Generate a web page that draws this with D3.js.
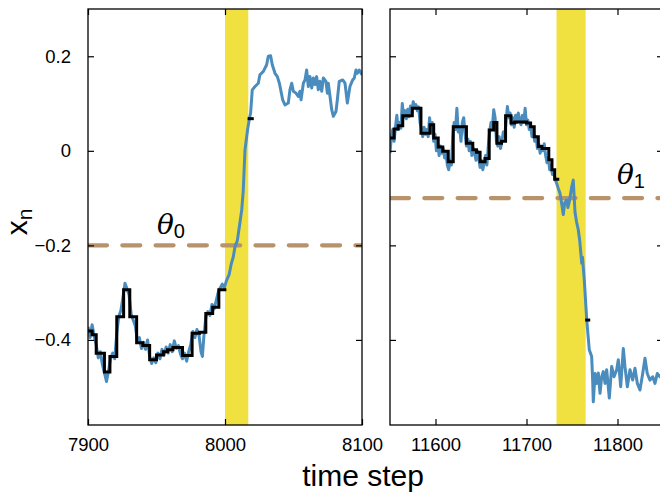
<!DOCTYPE html>
<html><head><meta charset="utf-8">
<script src="https://cdn.jsdelivr.net/npm/d3@7"></script>
<style>
body{margin:0;background:#fff}
svg{display:block}
text{font-family:"Liberation Sans",Arial,Helvetica,sans-serif;fill:#000}
</style></head>
<body>
<svg id="chart" width="660" height="494"></svg>
<script>
// ---------- DATA ----------
const yTicks = [-0.4, -0.2, 0, 0.2];
const xTicksLeft = [7900, 8000, 8100];
const xTicksRight = [11600, 11700, 11800];
const domainLeft = [7900, 8100];
const domainRight = [11550, 11850];
const yDomain = [-0.58, 0.3];
const thresholdLeft = -0.2;   // theta_0
const thresholdRight = -0.1;  // theta_1
const bandLeft = [8000, 8017];
const bandRight = [11733, 11765];

// blue trace, left window [time step, x_n]
const blueLeft = [
[7900,-0.372],[7901.5,-0.395],[7903,-0.368],[7904.5,-0.392],[7906,-0.410],[7907.5,-0.438],[7909,-0.425],
[7910.5,-0.452],[7912,-0.470],[7913.5,-0.488],[7915,-0.465],[7916.5,-0.440],[7918,-0.428],[7919.5,-0.440],
[7921,-0.385],[7922.5,-0.350],[7924,-0.338],[7925.5,-0.310],[7927,-0.280],[7928.5,-0.292],[7930,-0.305],
[7931.5,-0.345],[7933,-0.358],[7934.5,-0.370],[7936,-0.400],[7937.5,-0.395],[7939,-0.418],[7940.5,-0.405],
[7942,-0.420],[7943.5,-0.400],[7945,-0.435],[7946.5,-0.450],[7948,-0.438],[7949.5,-0.448],[7951,-0.428],
[7952.5,-0.440],[7954,-0.420],[7955.5,-0.432],[7957,-0.415],[7958.5,-0.428],[7960,-0.410],[7961.5,-0.425],
[7963,-0.402],[7964.5,-0.418],[7966,-0.412],[7967.5,-0.430],[7969,-0.440],[7970.5,-0.428],[7972,-0.445],
[7973.5,-0.425],[7975,-0.410],[7976.5,-0.382],[7978,-0.395],[7979.5,-0.378],[7981,-0.390],[7982.5,-0.425],
[7983.5,-0.435],[7984.5,-0.395],[7986,-0.352],[7987.5,-0.340],[7989,-0.348],[7990.5,-0.325],[7992,-0.335],
[7993.5,-0.318],[7995,-0.300],[7996.5,-0.290],[7998,-0.282],[7999.5,-0.290],[8001,-0.275],[8003,-0.262],
[8004.5,-0.240],[8006,-0.225],[8007.3,-0.203],[8009,-0.190],[8010.5,-0.160],[8012.2,-0.125],[8013.3,-0.085],
[8014.6,0.002],[8016.5,0.045],[8017.8,0.068],[8018.7,0.080],[8019.9,0.129],[8021.9,0.136],[8024.3,0.143],
[8025.5,0.161],[8028,0.168],[8030.4,0.182],[8031.6,0.200],[8033.3,0.201],[8034.5,0.182],[8036.5,0.164],
[8038.2,0.157],[8039.7,0.143],[8042.1,0.108],[8043.8,0.097],[8046.2,0.101],[8047.4,0.129],[8048.7,0.143],
[8049.9,0.126],[8051.8,0.122],[8053.5,0.115],[8054.7,0.126],[8055.5,0.108],[8057.2,0.143],[8058.4,0.150],
[8059.6,0.171],[8060.8,0.136],[8062,0.157],[8063.3,0.133],[8064.5,0.154],[8065.7,0.140],[8066.9,0.157],
[8068.1,0.129],[8069.3,0.147],[8070.6,0.126],[8071.8,0.154],[8073.7,0.147],[8074.7,0.122],[8075.4,0.143],
[8077.9,0.087],[8079.1,0.073],[8081,0.083],[8082,0.108],[8083.4,0.147],[8085.9,0.150],[8087.6,0.143],
[8089.3,0.101],[8091.2,0.136],[8093.2,0.150],[8094.4,0.154],[8095.6,0.171],[8096.6,0.164],[8098,0.171],
[8100,0.161]
];

// black step trace, left window [step start, level]
const stepLeft = [
[7900,-0.381],[7903,-0.389],[7906,-0.428],[7912,-0.468],[7916,-0.435],[7921,-0.351],[7926,-0.294],
[7930.5,-0.351],[7935.5,-0.406],[7940,-0.412],[7945,-0.442],[7950,-0.432],[7955,-0.425],[7958,-0.421],
[7962,-0.416],[7969,-0.433],[7976,-0.386],[7981.5,-0.384],[7986,-0.344],[7991,-0.331],[7995.5,-0.294],
[8001,-0.294]
];
const markLeft = [[8016.5,0.068],[8021,0.068]];

// blue trace, right window
const blueRight = [
[11550,-0.005],[11551.5,0.030],[11553,0.045],[11554.5,0.020],[11556,0.050],[11557.5,0.075],[11559,0.045],
[11560.5,0.060],[11562,0.048],[11563.5,0.100],[11565,0.070],[11566.5,0.085],[11568,0.068],[11569.5,0.088],
[11571,0.072],[11572.5,0.095],[11574,0.080],[11575.5,0.104],[11577,0.092],[11578.5,0.098],[11580,0.085],
[11581.5,0.093],[11583,0.060],[11584.5,0.045],[11586,0.030],[11587.5,0.050],[11589,0.035],[11590.5,0.045],
[11592,0.030],[11593.5,0.070],[11595,0.040],[11596.5,0.060],[11598,0.020],[11599.5,0.035],[11601,0.000],
[11602.5,0.015],[11604,-0.010],[11605.5,0.010],[11607,-0.005],[11608.5,0.005],[11610,-0.015],[11611.5,-0.005],
[11613,-0.030],[11614.5,-0.040],[11616,-0.020],[11617.5,-0.030],[11619,0.030],[11620.5,0.060],[11622,0.045],
[11623.5,0.090],[11625,0.040],[11626.5,0.050],[11628,0.020],[11629.5,0.060],[11631,0.070],[11632.5,0.035],
[11634,0.010],[11635.5,0.025],[11637,0.000],[11638.5,0.020],[11640,-0.010],[11641.5,0.005],[11643,-0.005],
[11644.5,-0.020],[11646,0.000],[11647.5,-0.015],[11649,-0.035],[11650.5,-0.020],[11652,-0.040],[11653.5,-0.025],
[11655,-0.010],[11656.5,-0.030],[11658,0.010],[11659.5,0.040],[11661,0.060],[11662.5,0.050],[11664,0.087],
[11665.5,0.070],[11667,0.020],[11668.5,0.010],[11670,0.030],[11671.5,0.005],[11673,0.020],[11674.5,0.040],
[11676,0.030],[11677.5,0.060],[11679,0.094],[11680.5,0.070],[11682,0.080],[11683.5,0.055],[11685,0.070],
[11686.5,0.050],[11688,0.075],[11689.5,0.060],[11691,0.080],[11692.5,0.065],[11694,0.055],[11695.5,0.075],
[11697,0.060],[11698.5,0.090],[11700,0.055],[11701.5,0.065],[11703,0.045],[11704.5,0.055],[11706,0.030],
[11707.5,0.045],[11709,0.020],[11710.5,0.030],[11712,0.005],[11713.5,0.015],[11715,-0.005],[11716.5,0.010],
[11718,0.000],[11719.5,0.015],[11721,-0.010],[11722.5,-0.025],[11724,-0.015],[11725.5,-0.040],[11727,-0.030],
[11728.5,-0.050],[11730,-0.045],[11731.5,-0.060],[11733,-0.068],[11735,-0.080],[11736.8,-0.090],[11738.5,-0.110],
[11740.4,-0.135],[11742,-0.110],[11744.2,-0.104],[11745.5,-0.120],[11747,-0.108],[11749.7,-0.076],[11751.4,-0.062],
[11753.3,-0.130],[11755,-0.150],[11756.9,-0.167],[11758.5,-0.190],[11760.7,-0.238],[11761.5,-0.225],[11763.5,-0.273],
[11766.2,-0.358],[11769,-0.421],[11771.6,-0.435],[11772.7,-0.485],[11773.4,-0.531],[11775.3,-0.471],[11777.1,-0.492],
[11778.9,-0.470],[11780.8,-0.513],[11782.6,-0.478],[11784.4,-0.467],[11786.3,-0.492],[11788.1,-0.463],[11791,-0.523],
[11793.6,-0.456],[11796.2,-0.478],[11799.1,-0.463],[11800.9,-0.442],[11803.5,-0.499],[11806.4,-0.418],[11808.2,-0.456],
[11810.8,-0.499],[11813.7,-0.463],[11816.7,-0.485],[11819.2,-0.460],[11821.8,-0.492],[11824.7,-0.506],[11827.7,-0.471],
[11830.2,-0.439],[11832.7,-0.471],[11835.7,-0.485],[11838.7,-0.478],[11841.2,-0.492],[11843.7,-0.471],[11846.7,-0.478],
[11850,-0.470]
];

// black step trace, right window
const stepRight = [
[11550,0.027],[11554.5,0.046],[11559,0.053],[11564,0.074],[11574.5,0.090],[11584,0.037],[11594,0.055],
[11598,0.027],[11603,0.008],[11608,-0.001],[11614,-0.023],[11619.5,0.051],[11634,0.016],[11641,0.002],
[11645,-0.003],[11649,-0.023],[11654.5,-0.016],[11659,0.044],[11664,0.060],[11667.5,0.016],[11672.5,0.020],
[11677,0.074],[11683,0.059],[11687,0.061],[11700,0.059],[11704.5,0.051],[11708.5,0.030],[11713,0.009],
[11717,0.005],[11724.5,-0.019],[11728,-0.040],[11731,-0.060],[11736,-0.060]
];
const markRight = [[11764.5,-0.358],[11770,-0.358]];

// ---------- DRAW ----------
const svg = d3.select("#chart");
const yTop = 9, yBottom = 425;
const y = d3.scaleLinear().domain(yDomain).range([yBottom, yTop]);

const panels = [
  {id:"L", x0:88, x1:362, domain:domainLeft, ticks:xTicksLeft, blue:blueLeft, step:stepLeft, mark:markLeft,
   band:bandLeft, thr:thresholdLeft, labelY:true},
  {id:"R", x0:390, x1:663, domain:domainRight, ticks:xTicksRight, blue:blueRight, step:stepRight, mark:markRight,
   band:bandRight, thr:thresholdRight, labelY:false}
];

const BLUE = "#4a8cbd", YELLOW = "#f0e140", TAN = "#b8926b";
const yFmt = d => d === 0 ? "0" : d3.format(".1f")(d);

panels.forEach(p => {
  const x = d3.scaleLinear().domain(p.domain).range([p.x0, p.x1]);
  svg.append("clipPath").attr("id","clip"+p.id)
    .append("rect").attr("x",p.x0).attr("y",yTop).attr("width",p.x1-p.x0).attr("height",yBottom-yTop);
  const g = svg.append("g").attr("clip-path","url(#clip"+p.id+")");

  g.append("rect").attr("x",x(p.band[0])).attr("y",yTop)
    .attr("width",x(p.band[1])-x(p.band[0])).attr("height",yBottom-yTop).attr("fill",YELLOW);

  g.append("line").attr("x1",p.x0+1).attr("x2",p.x1).attr("y1",y(p.thr)).attr("y2",y(p.thr))
    .attr("stroke",TAN).attr("stroke-width",4.2).attr("stroke-dasharray","18 15.3")
    .attr("stroke-linecap","round");

  const line = d3.line().x(d=>x(d[0])).y(d=>y(d[1]));
  g.append("path").datum(p.blue).attr("d",line).attr("fill","none")
    .attr("stroke",BLUE).attr("stroke-width",3).attr("stroke-linejoin","round");
  const stepLine = d3.line().x(d=>x(d[0])).y(d=>y(d[1])).curve(d3.curveStepAfter);
  g.append("path").datum(p.step).attr("d",stepLine).attr("fill","none")
    .attr("stroke","#000").attr("stroke-width",3);
  g.append("path").datum(p.mark).attr("d",line).attr("fill","none")
    .attr("stroke","#000").attr("stroke-width",3);

  svg.append("rect").attr("x",p.x0).attr("y",yTop).attr("width",p.x1-p.x0).attr("height",yBottom-yTop)
    .attr("fill","none").attr("stroke","#000").attr("stroke-width",1.3);

  const bx = svg.append("g").attr("transform",`translate(0,${yBottom})`)
    .call(d3.axisBottom(x).tickValues(p.ticks).tickSize(-6).tickPadding(13).tickFormat(d3.format("d")));
  const tx = svg.append("g").attr("transform",`translate(0,${yTop})`)
    .call(d3.axisTop(x).tickValues(p.ticks).tickSize(-6).tickFormat(""));
  const ly = svg.append("g").attr("transform",`translate(${p.x0},0)`)
    .call(d3.axisLeft(y).tickValues(yTicks).tickSize(-6).tickPadding(17).tickFormat(p.labelY ? yFmt : ""));
  const ry = svg.append("g").attr("transform",`translate(${p.x1},0)`)
    .call(d3.axisRight(y).tickValues(yTicks).tickSize(-6).tickFormat(""));
  [bx,tx,ly,ry].forEach(a => {
    a.select(".domain").remove();
    a.selectAll(".tick line").attr("stroke","#000").attr("stroke-width",1.2);
    a.selectAll("text").attr("font-size",18.5).attr("font-family","'Liberation Sans',Arial,sans-serif").attr("fill","#000");
  });
});

const thL = svg.append("text").attr("x",157).attr("y",234).attr("font-size",28);
thL.append("tspan").text("θ").attr("font-family","'DejaVu Serif','Liberation Serif',serif").attr("font-style","italic");
thL.append("tspan").text("0").attr("font-size",20).attr("dy",4);
const thR = svg.append("text").attr("x",617).attr("y",184).attr("font-size",28);
thR.append("tspan").text("θ").attr("font-family","'DejaVu Serif','Liberation Serif',serif").attr("font-style","italic");
thR.append("tspan").text("1").attr("font-size",20).attr("dy",4);

const yl = svg.append("text").attr("transform","translate(27,222) rotate(-90)").attr("text-anchor","middle")
  .attr("font-size",30);
yl.append("tspan").text("x");
yl.append("tspan").text("n").attr("font-size",21).attr("dy",5);

svg.append("text").attr("x",363).attr("y",486).attr("text-anchor","middle").attr("font-size",30).text("time step");
</script>
</body></html>
